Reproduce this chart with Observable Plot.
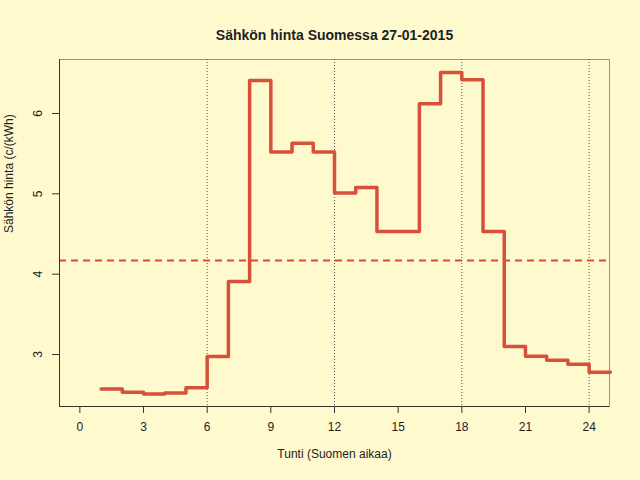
<!DOCTYPE html>
<html>
<head>
<meta charset="utf-8">
<script src="https://cdn.jsdelivr.net/npm/d3@7"></script>
<script src="https://cdn.jsdelivr.net/npm/@observablehq/plot@0.6"></script>
<style>
  html, body { margin: 0; padding: 0; background: #FFFACD; }
  svg { display: block; }
</style>
</head>
<body>
<div id="chart"></div>
<script>
const title = "Sähkön hinta Suomessa 27-01-2015";
const xLabel = "Tunti (Suomen aikaa)";
const yLabel = "Sähkön hinta (c/(kWh)";
const hours = [1,2,3,4,5,6,7,8,9,10,11,12,13,14,15,16,17,18,19,20,21,22,23,24,25];
const prices = [2.57,2.53,2.51,2.52,2.585,2.975,3.91,6.41,5.52,5.63,5.52,5.01,5.08,4.53,4.53,6.12,6.51,6.42,4.53,3.10,2.98,2.93,2.88,2.78,2.78];
const meanPrice = [4.17];
const xTicks = [0,3,6,9,12,15,18,21,24];
const yTicks = [3,4,5,6];
const vLines = [6,12,18,24];

const data = hours.map((h, i) => ({hour: h, price: prices[i]}));
const xDomain = [-0.96, 24.96];
const yDomain = [2.353, 6.672];
const font = "'Liberation Sans', Arial, Helvetica, sans-serif";

const chart = Plot.plot({
  width: 640,
  height: 480,
  marginLeft: 59,
  marginRight: 31,
  marginTop: 59,
  marginBottom: 74,
  style: {background: "#FFFACD", fontFamily: font, color: "#222"},
  x: {domain: xDomain},
  y: {domain: yDomain},
  marks: [
    Plot.frame({stroke: "#9a9583", strokeWidth: 1}),
    Plot.ruleX(vLines, {stroke: "#555", strokeDasharray: "1,2", strokeWidth: 1}),
    Plot.ruleY(meanPrice, {stroke: "#E0473A", strokeWidth: 2, strokeDasharray: "7,5"}),
    Plot.line(data, {x: "hour", y: "price", curve: "step-after", stroke: "#D6503A", strokeWidth: 3.5}),
    Plot.ruleX([xDomain[0]], {stroke: "#333", strokeWidth: 1}),
    Plot.ruleY([yDomain[0]], {stroke: "#333", strokeWidth: 1}),
    Plot.axisX({ticks: xTicks, tickSize: 7, tickPadding: 9, stroke: "#333", fontSize: 12, label: null}),
    Plot.axisY({ticks: yTicks, tickSize: 7, tickFormat: () => "", stroke: "#333", label: null}),
    Plot.text(yTicks, {y: d => d, text: d => String(d), frameAnchor: "left", dx: -21, rotate: -90, textAnchor: "middle", fontSize: 12, fill: "#222"}),
    Plot.text([title], {frameAnchor: "top", dy: -29, fontSize: 14, fontWeight: "bold", fill: "#222"}),
    Plot.text([xLabel], {frameAnchor: "bottom", dy: 51, fontSize: 12, fill: "#222"}),
    Plot.text([yLabel], {frameAnchor: "left", dx: -50, rotate: -90, fontSize: 12, fill: "#222"})
  ]
});
document.getElementById("chart").appendChild(chart);
</script>
</body>
</html>
